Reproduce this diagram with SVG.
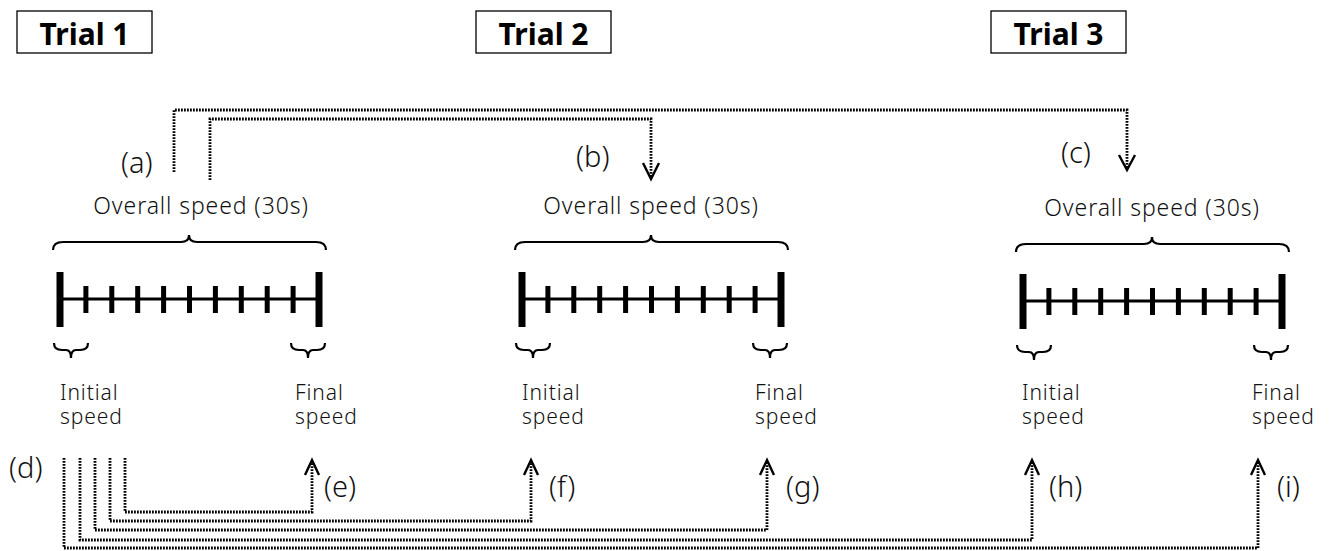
<svg xmlns="http://www.w3.org/2000/svg" xmlns:xlink="http://www.w3.org/1999/xlink" width="1335" height="551" viewBox="0 0 1335 551">
<style>
.box{fill:#fff;stroke:#000;stroke-width:1.3}
.title{font-family:"Noto Sans","Liberation Sans",sans-serif;font-weight:bold;font-size:30px;fill:#000}
.lbl{font-family:"Noto Sans","Liberation Sans",sans-serif;font-weight:300;font-size:23px;letter-spacing:0.9px;fill:#111}
.sm{font-family:"Noto Sans","Liberation Sans",sans-serif;font-weight:300;font-size:21px;letter-spacing:0.9px;fill:#111}
.let{font-family:"Noto Sans","Liberation Sans",sans-serif;font-weight:300;font-size:29px;fill:#111}
.dot{fill:none;stroke:#000;stroke-width:2.8;stroke-dasharray:1.8 1.2}
.head{fill:none;stroke:#000;stroke-width:2.4}
.brace{fill:none;stroke:#000;stroke-width:2.2}
</style>
<defs>
<g id="ruler">
<line x1="60" y1="299" x2="319" y2="299" stroke="#000" stroke-width="3"/>
<line x1="60" y1="272" x2="60" y2="327" stroke="#000" stroke-width="7"/>
<line x1="319" y1="272" x2="319" y2="327" stroke="#000" stroke-width="7"/>
<path d="M85.9,286V313M111.8,286V313M137.7,286V313M163.6,286V313M189.5,286V313M215.4,286V313M241.3,286V313M267.2,286V313M293.1,286V313" stroke="#000" stroke-width="5"/>
<path class="brace" d="M53,250Q53,242 63,242L181,242Q189,242 189,235Q189,242 197,242L316,242Q326,242 326,250"/>
<path class="brace" d="M54,343Q54,350 62,350L66,350Q71,350 71,358Q71,350 76,350L80,350Q88,350 88,343"/>
<path class="brace" d="M291,343Q291,350 299,350L303,350Q308,350 308,358Q308,350 313,350L317,350Q325,350 325,343"/>
</g>
</defs>

<g id="trial1">
<rect class="box" x="17" y="11" width="135" height="42"/>
<text class="title" x="84.5" y="45" text-anchor="middle">Trial 1</text>
<use xlink:href="#ruler"/>
<text class="lbl" x="201" y="214" text-anchor="middle">Overall speed (30s)</text>
<text class="sm" x="60" y="400">Initial<tspan x="60" dy="24">speed</tspan></text>
<text class="sm" x="295" y="400">Final<tspan x="295" dy="24">speed</tspan></text>
</g>

<g id="trial2">
<rect class="box" x="476" y="11" width="135" height="42"/>
<text class="title" x="543.5" y="45" text-anchor="middle">Trial 2</text>
<use xlink:href="#ruler" transform="translate(462,0)"/>
<text class="lbl" x="651" y="214" text-anchor="middle">Overall speed (30s)</text>
<text class="sm" x="522" y="400">Initial<tspan x="522" dy="24">speed</tspan></text>
<text class="sm" x="755" y="400">Final<tspan x="755" dy="24">speed</tspan></text>
</g>

<g id="trial3">
<rect class="box" x="991" y="11" width="135" height="42"/>
<text class="title" x="1058.5" y="45" text-anchor="middle">Trial 3</text>
<use xlink:href="#ruler" transform="translate(963,2)"/>
<text class="lbl" x="1152" y="216" text-anchor="middle">Overall speed (30s)</text>
<text class="sm" x="1022" y="400">Initial<tspan x="1022" dy="24">speed</tspan></text>
<text class="sm" x="1252" y="400">Final<tspan x="1252" dy="24">speed</tspan></text>
</g>

<g id="labels">
<text class="let" x="121" y="173">(a)</text>
<text class="let" x="576" y="167">(b)</text>
<text class="let" x="1061" y="163">(c)</text>
<text class="let" x="9" y="478">(d)</text>
<text class="let" x="324" y="497">(e)</text>
<text class="let" x="549" y="497">(f)</text>
<text class="let" x="786" y="497">(g)</text>
<text class="let" x="1049" y="497">(h)</text>
<text class="let" x="1277" y="497">(i)</text>
</g>

<g id="connectors">
<path class="dot" d="M174,172V110H1127V169"/>
<path class="dot" d="M210,180V119H651V178"/>
<path class="head" d="M1119,155L1127,170L1135,155"/>
<path class="head" d="M643,163L651,179L659,163"/>
<path class="dot" d="M125,458V512H312V461"/>
<path class="dot" d="M110,458V521H531V461"/>
<path class="dot" d="M95,458V530H767V461"/>
<path class="dot" d="M80,458V540H1032V461"/>
<path class="dot" d="M64,458V548H1258V461"/>
<path class="head" d="M305,475L312,460L319,475"/>
<path class="head" d="M524,475L531,460L538,475"/>
<path class="head" d="M760,475L767,460L774,475"/>
<path class="head" d="M1025,475L1032,460L1039,475"/>
<path class="head" d="M1251,475L1258,460L1265,475"/>
</g>
</svg>
